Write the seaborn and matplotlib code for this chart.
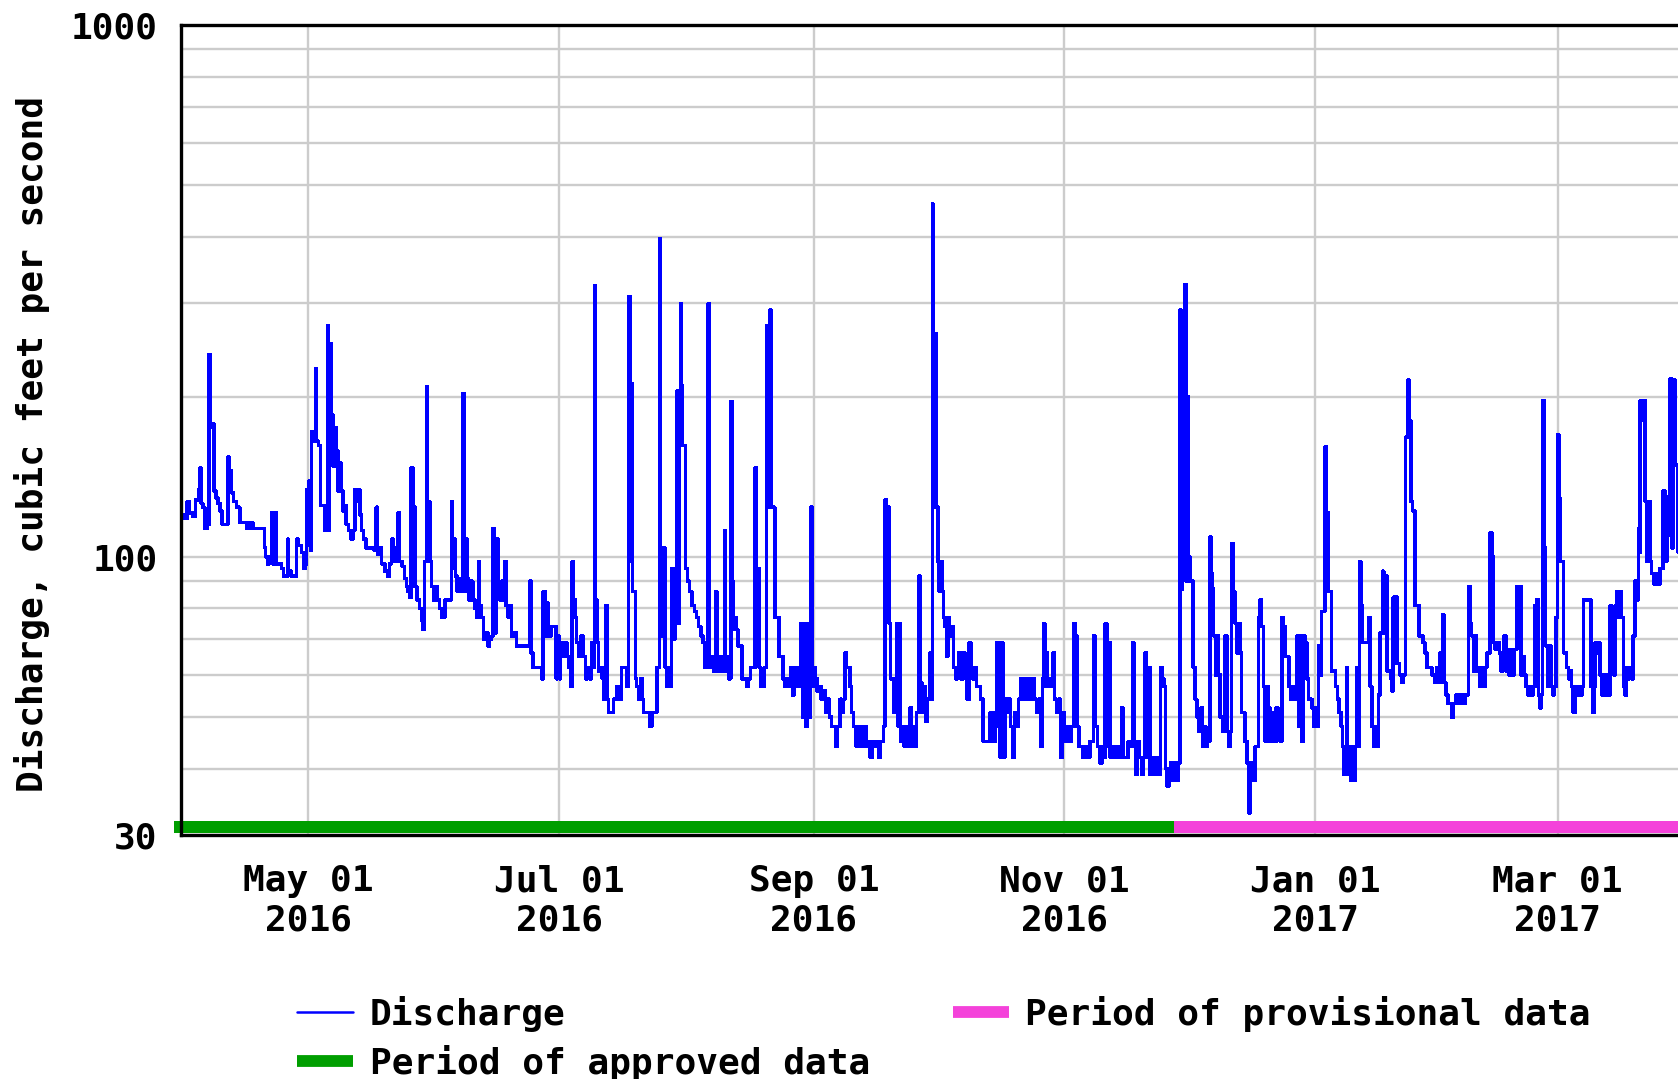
import numpy as np
import pandas as pd
import matplotlib
matplotlib.use("Agg")
import matplotlib.pyplot as plt
from matplotlib.lines import Line2D
from matplotlib.ticker import FixedLocator, NullFormatter, FixedFormatter
import seaborn as sns

# ---------------- data (day offset from START, discharge cfs) ----------------
START = "2016-03-31"

spring_2016 = [
    (0.0, 120), (0.8, 118), (1.5, 127), (2.0, 121), (2.9, 119), (3.5, 128), (4.3, 134), (4.6, 147),
    (4.9, 126), (5.3, 124), (5.8, 113), (6.5, 115), (6.8, 240), (7.1, 175), (7.6, 178), (8.0, 133),
    (8.5, 129), (9.0, 126), (9.5, 122), (10.0, 115), (11.0, 115), (11.4, 154), (11.8, 145), (12.3, 132),
    (12.8, 127), (13.5, 124), (14.3, 116), (15.2, 116), (15.9, 113), (16.7, 116), (17.5, 113), (18.5, 113),
    (19.8, 113), (20.3, 104), (20.6, 100), (21.0, 97), (21.5, 100), (22.0, 121), (22.4, 97), (22.9, 121),
    (23.3, 97), (24.0, 97), (24.5, 95), (25.0, 92), (25.9, 108), (26.2, 94), (26.8, 92), (27.8, 92),
    (28.1, 108), (28.6, 105), (29.3, 102), (29.8, 95), (30.3, 97), (30.6, 134), (30.9, 105), (31.2, 139),
    (31.5, 103), (31.8, 172), (32.2, 165), (32.7, 226), (33.0, 165), (33.5, 162), (33.9, 125), (34.4, 125),
    (34.9, 112), (35.3, 112), (35.6, 272), (35.9, 112), (36.1, 252), (36.6, 185), (37.0, 148), (37.4, 175),
    (37.8, 158), (38.2, 133), (38.6, 150), (39.0, 133), (39.4, 122), (39.8, 125), (40.2, 115), (40.8, 112),
    (41.4, 108), (41.8, 112), (42.3, 134), (42.7, 127), (43.1, 134), (43.5, 120), (43.9, 112), (44.4, 108),
    (45.0, 104), (46.0, 104), (47.0, 103), (47.5, 124), (47.8, 101), (48.3, 104), (48.8, 97), (49.6, 94),
    (50.3, 92), (50.8, 97), (51.2, 108), (51.6, 98), (52.0, 104), (52.4, 98), (52.8, 121), (53.2, 98),
    (53.8, 96), (54.4, 91), (54.9, 88), (55.2, 86), (55.6, 84), (56.0, 147), (56.4, 88), (56.7, 124),
    (57.0, 88), (57.4, 83), (58.0, 80), (58.5, 76), (58.9, 73), (59.2, 98), (59.7, 209), (60.0, 98),
    (60.3, 127), (60.6, 98), (61.0, 88), (61.4, 83), (61.8, 88), (62.3, 83), (62.9, 80), (63.5, 77),
    (64.2, 83), (65.0, 83), (65.8, 127), (66.1, 95), (66.4, 108), (66.8, 92), (67.2, 86), (67.6, 91),
    (68.0, 86), (68.6, 203), (68.9, 86), (69.2, 108), (69.6, 91), (70.0, 83), (70.5, 90), (71.0, 83),
    (71.5, 80), (71.9, 77), (72.4, 98), (72.7, 81), (73.1, 77), (73.6, 70), (74.2, 72), (74.7, 68),
    (75.1, 70), (75.6, 71), (75.9, 113), (76.3, 72), (76.7, 108), (77.1, 90), (77.6, 83), (78.0, 90),
    (78.3, 83), (78.7, 98), (79.1, 81), (79.6, 77), (80.0, 81), (80.4, 71), (81.0, 72), (81.6, 68),
    (82.5, 68), (83.5, 68), (84.4, 68), (84.8, 90), (85.2, 66), (85.6, 62), (86.5, 62), (87.3, 62),
    (87.7, 59), (88.1, 86), (88.6, 71), (89.0, 82), (89.3, 71), (90.0, 74), (90.8, 74), (91.3, 59),
]

summer_2016 = [
    (91.5, 65), (91.8, 71), (92.0, 59), (92.4, 69), (92.8, 65), (93.3, 69), (93.9, 65), (94.3, 62),
    (94.8, 57), (95.2, 98), (95.5, 83), (96.0, 77), (96.3, 69), (96.8, 65), (97.3, 71), (97.9, 65),
    (98.4, 59), (98.9, 62), (99.4, 59), (99.9, 69), (100.4, 62), (100.6, 324), (100.9, 83), (101.2, 69),
    (101.6, 61), (102.0, 62), (102.5, 59), (102.8, 54), (103.2, 54), (103.4, 81), (103.7, 54), (104.0, 51),
    (104.6, 51), (105.2, 54), (106.0, 57), (106.8, 54), (107.2, 62), (108.0, 62), (108.5, 57), (108.9, 309),
    (109.3, 98), (109.5, 212), (109.9, 86), (110.3, 86), (110.6, 59), (110.9, 57), (111.4, 54), (111.8, 59),
    (112.3, 54), (112.6, 51), (113.5, 51), (114.1, 48), (114.6, 51), (115.3, 51), (115.8, 62), (116.2, 62),
    (116.4, 397), (116.7, 104), (117.0, 71), (117.4, 104), (117.8, 62), (118.3, 57), (118.8, 62), (119.0, 57),
    (119.4, 95), (119.8, 70), (120.2, 93), (120.6, 205), (121.0, 75), (121.3, 205), (121.5, 299), (121.8, 210),
    (122.1, 162), (122.5, 162), (122.8, 95), (123.3, 90), (123.8, 86), (124.3, 81), (125.0, 79), (125.5, 77),
    (125.9, 74), (126.5, 71), (127.0, 69), (127.4, 62), (127.8, 66), (128.3, 299), (128.6, 62), (129.1, 65),
    (129.6, 61), (130.1, 86), (130.4, 61), (130.8, 65), (131.2, 61), (131.6, 65), (132.0, 61), (132.2, 112),
    (132.5, 61), (132.8, 65), (133.2, 59), (133.8, 196), (134.1, 90), (134.4, 73), (134.8, 77), (135.2, 73),
    (135.5, 68), (136.0, 68), (136.5, 59), (137.2, 59), (137.7, 57), (138.1, 59), (138.6, 62), (139.0, 62),
    (139.5, 62), (139.7, 147), (140.0, 95), (140.3, 95), (140.7, 62), (141.1, 57), (141.6, 57), (142.0, 62),
    (142.5, 272), (142.8, 124), (143.1, 272), (143.3, 291), (143.6, 124), (144.0, 124), (144.5, 77), (145.0, 77),
    (145.5, 65), (146.0, 65), (146.5, 59), (147.0, 57), (147.5, 59), (148.0, 57), (148.4, 62), (148.8, 55),
    (149.2, 59), (149.6, 62), (150.0, 57), (150.4, 62), (150.8, 75), (151.2, 50), (151.6, 75), (152.0, 48),
    (152.4, 75), (152.8, 50), (153.2, 75), (153.3, 124), (153.6, 57), (154.0, 62), (154.4, 59), (154.8, 56),
    (155.3, 57), (155.8, 54), (156.3, 56), (156.8, 51), (157.3, 54), (157.8, 50), (158.3, 48), (158.8, 48),
    (159.3, 44), (159.8, 48), (160.4, 54), (160.8, 51), (161.2, 54), (161.6, 66), (161.9, 62), (162.4, 62),
    (162.8, 57), (163.2, 51), (163.6, 48), (164.3, 44), (165.0, 48), (165.6, 44), (166.3, 48), (166.8, 44),
    (167.4, 45), (167.7, 42), (168.2, 45), (168.8, 44), (169.3, 45), (169.7, 42), (170.2, 45), (170.9, 48),
    (171.3, 128), (171.7, 78), (172.0, 124), (172.3, 75), (172.6, 59), (173.0, 59), (173.4, 51), (173.8, 59),
    (174.2, 75), (174.5, 48), (174.8, 75), (175.1, 45), (175.6, 48), (176.0, 44), (176.6, 48), (177.0, 44),
    (177.4, 52), (177.8, 44), (178.2, 48), (178.6, 44), (179.0, 51), (179.6, 92), (179.9, 58), (180.3, 51),
    (180.8, 57), (181.2, 49), (181.6, 54), (181.9, 54), (182.3, 66), (182.6, 54), (182.9, 461),
]

autumn_2016 = [
    (183.0, 263), (183.3, 124), (183.6, 263), (183.9, 124), (184.2, 98), (184.5, 86), (184.9, 98), (185.2, 86),
    (185.5, 77), (185.9, 74), (186.3, 65), (186.6, 77), (187.0, 71), (187.5, 74), (188.0, 62), (188.5, 59),
    (188.9, 62), (189.3, 66), (189.8, 59), (190.4, 66), (190.8, 59), (191.3, 54), (191.8, 69), (192.2, 62),
    (192.6, 59), (193.1, 62), (193.6, 57), (194.1, 57), (194.6, 54), (195.2, 45), (196.0, 45), (196.9, 51),
    (197.6, 45), (198.2, 51), (198.5, 69), (198.9, 48), (199.3, 42), (199.6, 69), (200.0, 42), (200.5, 54),
    (201.0, 51), (201.5, 54), (201.8, 48), (202.3, 42), (202.8, 51), (203.4, 48), (203.8, 54), (204.3, 59),
    (205.0, 54), (205.6, 59), (206.3, 54), (207.0, 59), (207.6, 54), (208.2, 51), (208.7, 54), (209.2, 44),
    (209.6, 59), (209.9, 75), (210.2, 57), (210.4, 66), (210.8, 57), (211.3, 59), (211.8, 57), (212.2, 66),
    (212.6, 54), (213.1, 51), (213.6, 54), (214.0, 42), (214.5, 51), (215.0, 45), (215.5, 48), (216.0, 45),
    (216.6, 48), (217.2, 75), (217.6, 71), (218.0, 48), (218.5, 44), (218.8, 44), (219.4, 42), (220.0, 44),
    (220.6, 42), (221.2, 45), (221.7, 45), (222.0, 71), (222.4, 48), (223.0, 44), (223.6, 41), (224.2, 44),
    (224.6, 42), (224.9, 75), (225.3, 44), (225.7, 69), (226.1, 42), (226.7, 44), (227.3, 42), (227.9, 44),
    (228.5, 42), (228.9, 52), (229.3, 42), (229.9, 42), (230.5, 45), (231.0, 44), (231.6, 69), (231.9, 45),
    (232.3, 39), (232.8, 45), (233.3, 42), (233.8, 39), (234.2, 42), (234.6, 66), (235.0, 42), (235.4, 62),
    (235.8, 39), (236.3, 42), (236.9, 39), (237.5, 42), (238.0, 39), (238.4, 62), (238.8, 59), (239.2, 57),
    (239.6, 40), (240.0, 37), (240.4, 40), (240.8, 41), (241.2, 38), (241.7, 41), (242.2, 38), (242.7, 41),
    (243.1, 291), (243.4, 87), (243.7, 171), (244.0, 100), (244.3, 325), (244.6, 90), (244.9, 200), (245.2, 100),
    (245.5, 90), (245.9, 90), (246.3, 62), (246.8, 54), (247.2, 50), (247.7, 47), (248.2, 52), (248.6, 44),
    (249.0, 48), (249.4, 44), (249.8, 45), (250.4, 109), (250.7, 93), (251.0, 87), (251.3, 71), (251.7, 60),
    (252.1, 71), (252.5, 60), (252.9, 50), (253.4, 47), (253.8, 50), (254.1, 71), (254.5, 47), (254.9, 44),
    (255.3, 47), (255.7, 106), (256.1, 86), (256.5, 75), (256.9, 66), (257.3, 75), (257.7, 66), (258.1, 51),
    (258.5, 51), (258.9, 45), (259.4, 41), (259.8, 33), (260.2, 38), (260.6, 41), (261.0, 38), (261.4, 44),
    (261.8, 44), (262.2, 77), (262.6, 83), (262.9, 74), (263.4, 57), (263.8, 45), (264.2, 57), (264.6, 52),
    (265.0, 45), (265.5, 51), (266.0, 45), (266.5, 52), (267.0, 48), (267.5, 45), (267.9, 77), (268.3, 74),
    (268.7, 65), (269.2, 65), (269.6, 57), (270.1, 54), (270.6, 57), (271.1, 54), (271.5, 71), (271.9, 48),
    (272.3, 71), (272.7, 45), (273.1, 71), (273.5, 69), (274.0, 59), (274.4, 54),
]

winter_2017 = [
    (274.7, 54), (275.2, 52), (275.6, 48), (276.0, 52), (276.4, 48), (276.8, 68), (277.2, 60), (277.6, 79),
    (278.0, 79), (278.4, 161), (278.7, 121), (279.2, 86), (279.8, 86), (280.0, 61), (280.6, 61), (281.0, 57),
    (281.4, 54), (281.8, 51), (282.3, 48), (282.7, 44), (283.0, 39), (283.3, 44), (283.7, 62), (283.9, 39),
    (284.2, 44), (284.6, 38), (284.9, 44), (285.3, 38), (285.7, 44), (286.1, 62), (286.5, 44), (286.8, 98),
    (287.1, 81), (287.5, 69), (288.0, 69), (288.4, 69), (289.0, 77), (289.4, 57), (289.8, 48), (290.2, 44),
    (290.6, 48), (291.0, 44), (291.4, 55), (291.8, 72), (292.4, 94), (292.7, 72), (293.3, 92), (293.5, 61),
    (293.9, 61), (294.3, 59), (294.7, 56), (295.0, 84), (295.3, 63), (295.7, 84), (296.0, 63), (296.5, 60),
    (297.0, 58), (297.5, 60), (298.0, 168), (298.5, 215), (298.9, 180), (299.3, 127), (299.7, 122), (300.3, 81),
    (300.9, 81), (301.3, 71), (301.8, 71), (302.2, 69), (302.7, 66), (303.2, 62), (303.8, 62), (304.4, 60),
    (305.0, 58), (305.6, 62), (306.0, 58), (306.4, 66), (306.8, 58), (307.0, 78), (307.3, 58), (307.8, 55),
    (308.3, 53), (308.8, 53), (309.2, 50), (309.7, 53), (310.2, 55), (310.8, 53), (311.4, 55), (312.0, 53),
    (312.6, 55), (313.3, 88), (313.7, 75), (314.1, 71), (314.5, 61), (314.9, 71), (315.3, 61), (315.7, 62),
    (316.1, 57), (316.5, 62), (316.9, 57), (317.3, 62), (317.8, 66), (318.6, 111), (319.0, 100), (319.4, 69),
    (319.8, 67), (320.2, 69), (320.8, 66), (321.2, 61), (321.6, 66), (322.0, 71), (322.4, 61), (322.8, 67),
    (323.2, 60), (323.6, 67), (324.0, 60), (324.5, 67), (325.1, 88), (325.7, 88), (326.1, 60), (326.5, 65),
    (326.9, 60), (327.3, 57), (327.7, 55), (328.1, 57), (328.5, 55), (329.0, 57), (329.5, 81), (329.9, 83),
    (330.3, 55), (330.7, 52), (331.0, 55), (331.3, 197), (331.7, 104), (332.1, 68), (332.5, 57), (332.9, 68),
    (333.4, 57), (333.8, 55), (334.2, 57), (334.6, 77), (335.0, 170), (335.3, 129), (335.6, 98), (336.0, 98),
    (336.4, 66), (336.8, 66), (337.2, 62), (337.6, 59), (338.0, 61), (338.4, 57), (338.8, 51), (339.3, 57),
    (339.7, 55), (340.1, 57), (340.5, 55), (340.9, 57), (341.3, 83), (341.8, 83), (342.3, 83), (342.7, 83),
    (343.1, 57), (343.5, 51), (343.9, 57), (344.1, 69), (344.5, 66), (344.9, 69), (345.3, 60), (345.7, 55),
    (346.1, 60), (346.5, 55), (347.0, 60), (347.4, 55), (347.8, 81), (348.2, 78), (348.6, 60), (349.0, 81),
    (349.4, 86), (349.8, 77), (350.2, 86), (350.6, 77), (351.0, 57), (351.4, 55), (351.8, 62), (352.2, 59),
    (352.6, 62), (353.0, 59), (353.4, 71), (353.8, 90), (354.3, 83), (354.7, 113), (354.9, 102), (355.1, 197),
    (355.5, 181), (355.9, 197), (356.3, 127), (356.7, 98), (357.1, 127), (357.5, 98), (357.9, 93), (358.3, 89),
    (358.7, 93), (359.1, 89), (359.5, 89), (359.9, 95), (360.3, 95), (360.7, 133), (361.1, 98), (361.6, 130),
    (362.0, 110), (362.4, 216), (362.8, 104), (363.2, 215), (363.6, 149), (364.0, 149), (364.3, 102), (364.8, 102),
]

tick_dates = ["2016-05-01", "2016-07-01", "2016-09-01", "2016-11-01", "2017-01-01", "2017-03-01"]
tick_labels = ["May 01\n2016", "Jul 01\n2016", "Sep 01\n2016", "Nov 01\n2016", "Jan 01\n2017", "Mar 01\n2017"]
y_major = [30, 100, 1000]
y_major_labels = ["30", "100", "1000"]
y_minor = [40, 50, 60, 70, 80, 90, 200, 300, 400, 500, 600, 700, 800, 900]
approved_period = ("2016-03-29 08:00", "2016-11-27 16:00")
provisional_period = ("2016-11-27 16:00", "2017-04-02")
x_range = ("2016-03-31", "2017-04-01")

# ---------------- build frame ----------------
pairs = spring_2016 + summer_2016 + autumn_2016 + winter_2017
df = pd.DataFrame(pairs, columns=["day", "cfs"])
df["date"] = pd.Timestamp(START) + pd.to_timedelta(df["day"], unit="D")

sns.set_style("white")
plt.rcParams["font.family"] = ["DejaVu Sans Mono"]
plt.rcParams["font.weight"] = "bold"
plt.rcParams["text.color"] = "black"
plt.rcParams["xtick.color"] = "black"
plt.rcParams["ytick.color"] = "black"

W, H = 1678, 1079
fig = plt.figure(figsize=(W / 100, H / 100), dpi=100)
left_px, right_px, top_px, bot_px = 181, 1685, 25, 835
ax = fig.add_axes([left_px / W, (H - bot_px) / H, (right_px - left_px) / W, (bot_px - top_px) / H])

BLUE = "#0000FF"
GREEN = "#009E00"
PINK = "#F442DA"
GRID = "#CCCCCC"
FS = 26

sns.lineplot(data=df, x="date", y="cfs", ax=ax, color=BLUE, linewidth=1.8,
             drawstyle="steps-post", estimator=None, legend=False, zorder=3,
             antialiased=False)

ax.set_yscale("log")
ax.set_ylim(30, 1000)
ax.set_xlim(pd.Timestamp(x_range[0]), pd.Timestamp(x_range[1]))

ax.yaxis.set_major_locator(FixedLocator(y_major))
ax.yaxis.set_major_formatter(FixedFormatter(y_major_labels))
ax.yaxis.set_minor_locator(FixedLocator(y_minor))
ax.yaxis.set_minor_formatter(NullFormatter())
ax.set_xticks(pd.to_datetime(tick_dates))
ax.set_xticklabels(tick_labels)

ax.grid(True, which="major", axis="x", color=GRID, linewidth=1.7)
ax.grid(True, which="both", axis="y", color=GRID, linewidth=1.7)
ax.set_axisbelow(True)

ax.tick_params(axis="both", which="both", length=0)
ax.tick_params(axis="y", pad=17, labelsize=FS)
ax.tick_params(axis="x", pad=21, labelsize=FS)
for lab in ax.get_xticklabels() + ax.get_yticklabels():
    lab.set_fontweight("bold")
    lab.set_color("black")

for s in ["left", "top", "bottom", "right"]:
    ax.spines[s].set_color("black")
    ax.spines[s].set_linewidth(2.4)
    ax.spines[s].set_zorder(5)

ax.set_xlabel("")
ax.set_ylabel("")

# data-approval bars along the bottom
ymin_f, ymax_f = 2.5 / 810, 14.5 / 810
for (a, b), col in [(approved_period, GREEN), (provisional_period, PINK)]:
    p = ax.axvspan(pd.Timestamp(a), pd.Timestamp(b), ymin=ymin_f, ymax=ymax_f,
                   color=col, lw=0, zorder=4)
    p.set_clip_on(False)

fig.text(32 / W, 1 - 444 / H, "Discharge, cubic feet per second", rotation=90,
         ha="center", va="center", fontsize=FS, fontweight="bold", color="black")

handles = [
    Line2D([], [], color=BLUE, lw=1.8),
    Line2D([], [], color=GREEN, lw=8.5, solid_capstyle="butt"),
    Line2D([], [], color=PINK, lw=8.5, solid_capstyle="butt"),
]
labels = ["Discharge", "Period of approved data", "Period of provisional data"]
leg = fig.legend(handles, labels, ncol=2, loc="upper left", bbox_to_anchor=(297 / W, 1 - 996 / H),
                 frameon=False, borderpad=0, borderaxespad=0, handlelength=1.55, handletextpad=0.46,
                 columnspacing=2.3, labelspacing=0.35,
                 prop={"family": "DejaVu Sans Mono", "weight": "bold", "size": FS})
for t in leg.get_texts():
    t.set_color("black")

fig.savefig("out.png", dpi=100)
